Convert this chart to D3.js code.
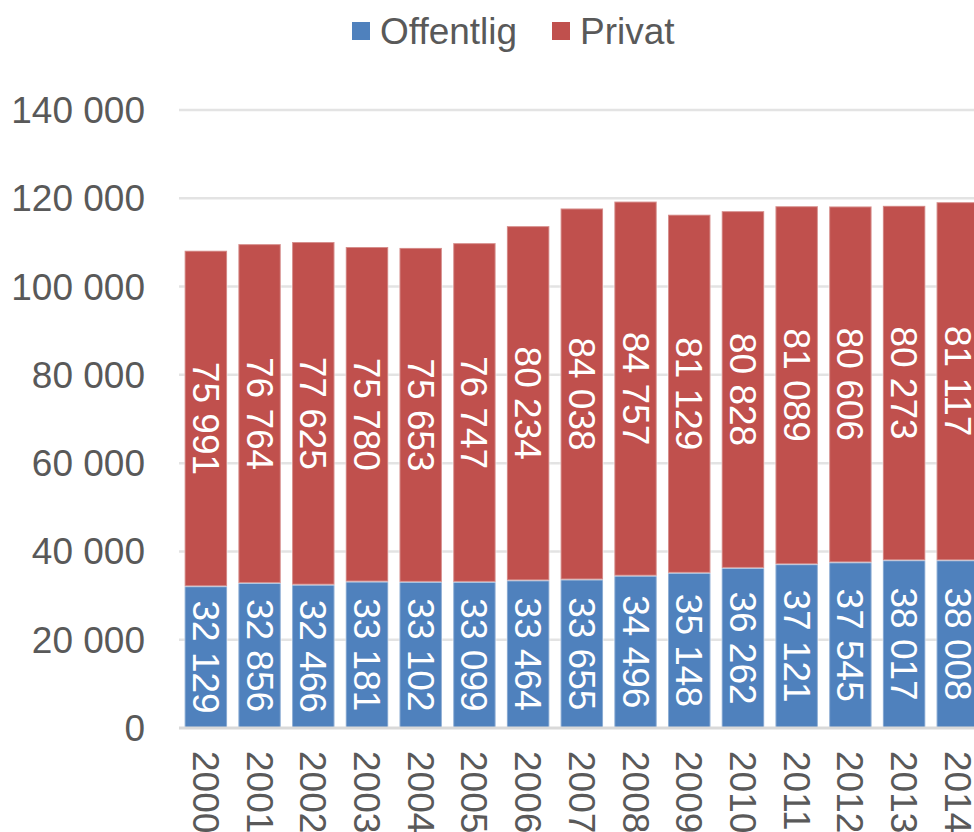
<!DOCTYPE html>
<html>
<head>
<meta charset="utf-8">
<script src="https://cdn.jsdelivr.net/npm/d3@7"></script>
<style>
html,body{margin:0;padding:0;background:#fff;}
svg{display:block;font-family:"Liberation Sans",Arial,sans-serif;}
</style>
</head>
<body>
<svg id="chart" width="974" height="832"></svg>
<script>
const years = ["2000","2001","2002","2003","2004","2005","2006","2007","2008","2009","2010","2011","2012","2013","2014"];
const offentlig = [32129,32856,32466,33181,33102,33099,33464,33655,34496,35148,36262,37121,37545,38017,38008];
const privat = [75991,76764,77625,75780,75653,76747,80234,84038,84757,81129,80828,81089,80606,80273,81117];
const yTicks = [0,20000,40000,60000,80000,100000,120000,140000];
const seriesNames = ["Offentlig","Privat"];
const colors = ["#4f81bd","#c0504d"];

const svg = d3.select("#chart");
const fmt = v => d3.format(",")(v).replace(/,/g," ");

const x = d3.scaleBand().domain(years).range([179, 179 + 15*53.71]).paddingInner(0.21).paddingOuter(0.105);
const y = d3.scaleLinear().domain([0,140000]).range([728,110]);

// gridlines
svg.append("g").selectAll("line").data(yTicks.filter(d=>d>0)).join("line")
  .attr("x1",179).attr("x2",974).attr("y1",d=>y(d)).attr("y2",d=>y(d))
  .attr("stroke","#e3e3e3").attr("stroke-width",2.5);

// y tick labels
svg.append("g").selectAll("text").data(yTicks).join("text")
  .attr("x",145).attr("y",d=>y(d)).attr("text-anchor","end").attr("dy","0.35em")
  .attr("font-size",37).attr("fill","#595959").text(d=>fmt(d));

const rows = years.map((yr,i)=>({year:yr, Offentlig:offentlig[i], Privat:privat[i]}));
const stacked = d3.stack().keys(seriesNames)(rows);

const g = svg.append("g");
stacked.forEach((s,si)=>{
  g.append("g").selectAll("rect").data(s).join("rect")
    .attr("x",d=>x(d.data.year)).attr("width",x.bandwidth())
    .attr("y",d=>y(d[1])).attr("height",d=>y(d[0])-y(d[1]))
    .attr("fill",colors[si]).attr("stroke","rgba(255,255,255,0.35)").attr("stroke-width",2);
  g.append("g").selectAll("text").data(s).join("text")
    .attr("transform",d=>`translate(${x(d.data.year)+x.bandwidth()/2},${(y(d[0])+y(d[1]))/2}) rotate(90)`)
    .attr("text-anchor","middle").attr("dy","0.35em")
    .attr("font-size",37).attr("fill","#fff")
    .text(d=>fmt(d[1]-d[0]));
});

// baseline axis
svg.append("line").attr("x1",179).attr("x2",974).attr("y1",y(0)).attr("y2",y(0))
  .attr("stroke","#d9d9d9").attr("stroke-width",3);

// year labels
svg.append("g").selectAll("text").data(years).join("text")
  .attr("transform",d=>`translate(${x(d)+x.bandwidth()/2},751) rotate(90)`)
  .attr("text-anchor","start").attr("dy","0.35em")
  .attr("font-size",37).attr("fill","#595959").text(d=>d);

// legend
const legendX = [352,552];
seriesNames.forEach((n,i)=>{
  svg.append("rect").attr("x",legendX[i]).attr("y",22).attr("width",18).attr("height",18).attr("fill",colors[i]);
  svg.append("text").attr("x",legendX[i]+28).attr("y",44).attr("font-size",37).attr("fill","#595959").text(n);
});
</script>
</body>
</html>
